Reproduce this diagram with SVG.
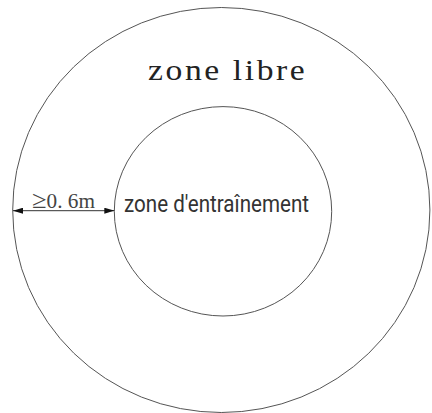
<svg xmlns="http://www.w3.org/2000/svg" width="432" height="413" viewBox="0 0 432 413">
<style>
.ring{fill:none;stroke:#555;stroke-width:1}
.dim{stroke:#333;stroke-width:1}
</style>
<defs>
<marker id="ah" viewBox="0 0 10 6" refX="10" refY="3" markerWidth="10" markerHeight="6" markerUnits="userSpaceOnUse" orient="auto-start-reverse">
<path d="M0,0 L10,3 L0,6 Z" fill="#111"/>
</marker>
</defs>
<rect width="432" height="413" fill="#fff"/>
<g id="outer">
<ellipse class="ring" cx="221.3" cy="210" rx="208.6" ry="202.5"/>
<text transform="translate(148,79.5) scale(1.12,1)" x="0" y="0" font-family="Liberation Serif, serif" font-size="30" fill="#222" textLength="140" lengthAdjust="spacing">zone libre</text>
</g>
<g id="inner">
<ellipse class="ring" cx="223" cy="211.3" rx="108.7" ry="104.7"/>
<text x="124" y="211.5" font-family="Roboto, 'Liberation Sans', sans-serif" font-size="24" fill="#333" textLength="185" lengthAdjust="spacingAndGlyphs">zone d'entraînement</text>
</g>
<g id="connectors">
<line class="dim" x1="13" y1="210.7" x2="114.3" y2="210.7" marker-start="url(#ah)" marker-end="url(#ah)"/>
<text x="32" y="207.5" font-family="'Liberation Serif', serif" font-size="20" fill="#444" textLength="63" lengthAdjust="spacingAndGlyphs"><tspan font-size="25">≥</tspan>0. 6m</text>
</g>
</svg>
